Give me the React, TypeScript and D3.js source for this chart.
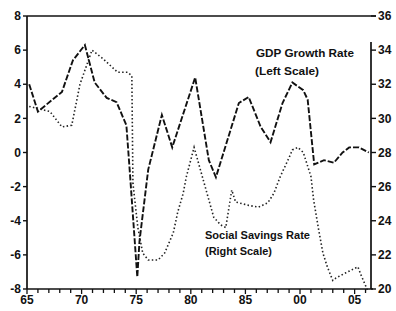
import React, { useEffect, useRef } from "react";
import * as d3 from "d3";

// GDP growth rate, left scale
const gdpYears = [
  1965.2, 1966.0, 1968.2, 1969.2, 1970.3, 1971.2, 1972.3, 1973.2, 1974.1, 1974.4,
  1975.1, 1975.3, 1976.1, 1977.35, 1978.3, 1980.4, 1981.65, 1982.3, 1984.4, 1985.3,
  1986.4, 1987.3, 1988.4, 1989.3, 1990.3, 1990.7, 1991.3, 1992.2, 1993.1, 1993.9,
  1994.5, 1995.4, 1996.3
];
const gdpValues = [
  4.0, 2.4, 3.55, 5.4, 6.3, 4.1, 3.2, 2.95, 1.6, -1.0,
  -7.3, -5.2, -1.0, 2.2, 0.3, 4.4, -0.45, -1.45, 2.9, 3.25,
  1.5, 0.6, 2.9, 4.1, 3.65, 3.1, -0.7, -0.45, -0.6, 0.0,
  0.3, 0.3, 0.0
];

// Social savings rate, right scale
const savingsYears = [
  1965.2, 1967.1, 1968.2, 1969.1, 1969.85, 1970.95, 1971.95, 1973.3, 1974.2, 1974.6,
  1974.7, 1975.15, 1975.6, 1976.1, 1977.0, 1977.6, 1978.4, 1978.8, 1979.3, 1979.6,
  1980.3, 1981.4, 1982.1, 1982.75, 1983.2, 1983.75, 1984.1, 1985.3, 1986.2, 1987.05,
  1987.6, 1988.2, 1989.0, 1989.3, 1989.8, 1990.3, 1991.0, 1991.25, 1991.7, 1992.1,
  1992.5, 1993.0, 1993.3, 1994.2, 1995.3, 1995.6, 1996.0, 1996.2
];
const savingsValues = [
  30.7, 30.4, 29.5, 29.6, 32.0, 34.0, 33.5, 32.7, 32.7, 32.5,
  26.2, 23.6, 22.1, 21.7, 21.7, 22.1, 23.3, 24.5, 25.6, 26.6,
  28.3, 25.8, 24.2, 23.75, 23.6, 25.8, 25.1, 24.9, 24.8, 25.05,
  25.6, 26.6, 27.7, 28.15, 28.3, 28.0, 26.6, 25.2, 23.5, 22.1,
  21.3, 20.5, 20.65, 20.95, 21.3, 20.8, 20.2, 19.9
];

const leftTicks = [-8, -6, -4, -2, 0, 2, 4, 6, 8];
const rightTicks = [20, 22, 24, 26, 28, 30, 32, 34, 36];
const xTickYears = [1965, 1970, 1975, 1980, 1985, 1990, 1995];
const xTickLabels = ["65", "70", "75", "80", "85", "00", "05"];
const minorYears = d3.range(1965, 1997);

function App() {
  const ref = useRef(null);

  const w = 396;
  const h = 311;
  const left = 27;
  const right = 371;
  const top = 16;
  const bottom = 289;

  useEffect(() => {
    const g = d3.select(ref.current);
    g.selectAll("*").remove();

    const x = d3.scaleLinear().domain([1965, 1996.5]).range([left, right]);
    const yLeft = d3.scaleLinear().domain([-8, 8]).range([bottom, top]);
    const yRight = d3.scaleLinear().domain([20, 36]).range([bottom, top]);

    const font = "'Liberation Sans', Arial, sans-serif";

    // frame lines
    g.append("line").attr("x1", left).attr("x2", left).attr("y1", top).attr("y2", bottom)
      .attr("stroke", "#111").attr("stroke-width", 1.7);
    g.append("line").attr("x1", left).attr("x2", right + 2).attr("y1", bottom).attr("y2", bottom)
      .attr("stroke", "#111").attr("stroke-width", 1.7);
    g.append("line").attr("x1", left).attr("x2", right + 5).attr("y1", top).attr("y2", top)
      .attr("stroke", "#111").attr("stroke-width", 1.7);
    g.append("line").attr("x1", right).attr("x2", right).attr("y1", top + 26).attr("y2", bottom)
      .attr("stroke", "#111").attr("stroke-width", 1.7);

    // left ticks
    g.selectAll(".lt").data(leftTicks).enter().append("line")
      .attr("x1", left - 4).attr("x2", left)
      .attr("y1", d => yLeft(d)).attr("y2", d => yLeft(d))
      .attr("stroke", "#111").attr("stroke-width", 1.4);
    g.selectAll(".ll").data(leftTicks).enter().append("text")
      .attr("x", left - 6).attr("y", d => yLeft(d)).attr("dy", "0.35em")
      .attr("text-anchor", "end").attr("font-family", font).attr("font-weight", "bold")
      .attr("font-size", 12).attr("fill", "#111").text(d => d);

    // right ticks
    g.selectAll(".rt").data(rightTicks).enter().append("line")
      .attr("x1", right).attr("x2", right + 5)
      .attr("y1", d => yRight(d)).attr("y2", d => yRight(d))
      .attr("stroke", "#111").attr("stroke-width", 1.4);
    g.selectAll(".rl").data(rightTicks).enter().append("text")
      .attr("x", right + 7).attr("y", d => yRight(d)).attr("dy", "0.35em")
      .attr("text-anchor", "start").attr("font-family", font).attr("font-weight", "bold")
      .attr("font-size", 12).attr("fill", "#111").text(d => d);

    // bottom ticks
    g.selectAll(".bt").data(minorYears).enter().append("line")
      .attr("x1", d => x(d)).attr("x2", d => x(d))
      .attr("y1", bottom).attr("y2", d => bottom + (d % 5 === 0 ? 5 : 4))
      .attr("stroke", "#111").attr("stroke-width", 1.3);
    g.selectAll(".bl").data(xTickYears).enter().append("text")
      .attr("x", d => x(d)).attr("y", bottom + 11).attr("dy", "0.35em")
      .attr("text-anchor", "middle").attr("font-family", font).attr("font-weight", "bold")
      .attr("font-size", 12).attr("fill", "#111").text((d, i) => xTickLabels[i]);

    // series
    const gdpLine = d3.line<number>()
      .x((d, i) => x(gdpYears[i]))
      .y(d => yLeft(d));
    g.append("path").attr("d", gdpLine(gdpValues))
      .attr("fill", "none").attr("stroke", "#111").attr("stroke-width", 1.9)
      .attr("stroke-dasharray", "6,2");

    const savLine = d3.line<number>()
      .x((d, i) => x(savingsYears[i]))
      .y(d => yRight(d));
    g.append("path").attr("d", savLine(savingsValues))
      .attr("fill", "none").attr("stroke", "#222").attr("stroke-width", 1.6)
      .attr("stroke-dasharray", "1.5,2.3");

    // annotations
    const note = (tx: number, ty: number, s: string, len: number) =>
      g.append("text").attr("x", tx).attr("y", ty).attr("dy", "0.35em")
        .attr("font-family", font).attr("font-weight", "bold").attr("font-size", 10)
        .attr("textLength", len).attr("lengthAdjust", "spacingAndGlyphs")
        .attr("fill", "#111").text(s);
    note(256, 53, "GDP Growth Rate", 98);
    note(255, 71, "(Left Scale)", 64);
    note(205, 235, "Social Savings Rate", 105);
    note(205, 251, "(Right Scale)", 67);
  }, []);

  return (
    <div style={{ position: "absolute", left: 0, top: 0, background: "#fff" }}>
      <svg width={w} height={h}>
        <rect width={w} height={h} fill="#fff" />
        <g ref={ref}></g>
      </svg>
    </div>
  );
}

export default App;
